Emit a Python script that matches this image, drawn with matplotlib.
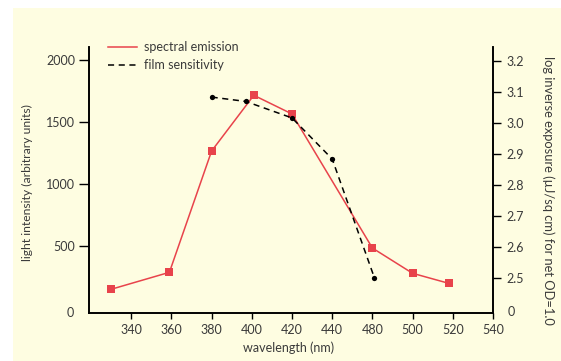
import numpy as np
import matplotlib
matplotlib.use("Agg")
import matplotlib.pyplot as plt
from matplotlib.lines import Line2D
from matplotlib.patches import Rectangle

plt.rcParams.update({
    "font.family": ["Lato", "DejaVu Sans"],
    "font.size": 9,
    "text.color": "#3a3a3a",
    "xtick.color": "black",
    "ytick.color": "black",
    "xtick.labelcolor": "#3a3a3a",
    "ytick.labelcolor": "#3a3a3a",
    "axes.labelcolor": "#3a3a3a",
})

# x axis tick labels (evenly spaced, 460 is skipped on the original)
tick_wl = [340, 360, 380, 400, 420, 440, 480, 500, 520, 540]

# spectral emission (left axis)
em_wl = [330, 359, 380, 401, 420, 480, 500, 518]
em_val = [148, 285, 1265, 1715, 1564, 481, 277, 196]

# film sensitivity (right axis)
fs_wl = [380, 397, 420, 440, 481]
fs_val = [3.083, 3.069, 3.016, 2.884, 2.502]

left_ticks = [500, 1000, 1500, 2000]
right_ticks = [2.5, 2.6, 2.7, 2.8, 2.9, 3.0, 3.1, 3.2]

# wavelength -> evenly spaced slot
scale_wl = [300, 320] + tick_wl + [560]
scale_pos = list(range(-1, len(scale_wl) - 1))


def fwd(x):
    return np.interp(x, scale_wl, scale_pos)


def inv(p):
    return np.interp(p, scale_pos, scale_wl)


red = "#E8434B"
cream = "#FEFDE1"

fig = plt.figure(figsize=(5.61, 3.61), dpi=100)
fig.patch.set_facecolor("white")
fig.patches.append(Rectangle((12.7 / 561, 0), 1, 1 - 8 / 361, transform=fig.transFigure,
                             facecolor=cream, edgecolor="none", zorder=-10))

ax = fig.add_axes([89 / 561, 1 - 313.3 / 361, (493 - 89) / 561, (313.3 - 47) / 361])
ax.set_facecolor("none")
ax.set_xscale("function", functions=(fwd, inv))
ax.set_xlim(319, 540)
ax.set_ylim(-46, 2105)

ax2 = ax.twinx()
ax2.set_ylim(2.388, 3.244)

ax.plot(em_wl, em_val, color=red, lw=1.1, marker="s", ms=5.2,
        markeredgewidth=0, zorder=3)
ax2.plot(fs_wl, fs_val, color="black", lw=1.1, ls=(0, (4, 3)), marker="o",
         ms=3.8, markeredgewidth=0, zorder=4)

for s in ["top"]:
    ax.spines[s].set_visible(False)
    ax2.spines[s].set_visible(False)
for a in (ax, ax2):
    for s in a.spines.values():
        s.set_linewidth(1.2)

ax.set_xticks(tick_wl)
ax.set_xticklabels([str(t) for t in tick_wl])
ax.set_yticks(left_ticks)
ax.set_yticklabels([str(t) for t in left_ticks])
ax2.set_yticks(right_ticks)
ax2.set_yticklabels(["%.1f" % t for t in right_ticks])
ax.tick_params(axis="x", direction="out", length=4, width=1, pad=4)
ax.tick_params(axis="y", direction="out", length=7, width=1, pad=3)
ax2.tick_params(axis="y", direction="out", length=6, width=1, pad=4)
ax.xaxis.set_minor_locator(plt.NullLocator())

# the "0" labels sitting at the foot of both axes
ax.text(-0.037, 0, "0", transform=ax.transAxes, ha="right", va="center")
ax2.text(1.035, 0.005, "0", transform=ax2.transAxes, ha="left", va="center")

ax.set_ylabel("light intensity (arbitrary units)", fontsize=8.7)
ax.yaxis.set_label_coords(-0.138, 0.49)
fig.text(289 / 561, 1 - 348 / 361, "wavelength (nm)", ha="center", va="center")
fig.text(548 / 561, 1 - 190 / 361, "log inverse exposure (µJ/sq cm) for net OD=1.0",
         rotation=270, ha="center", va="center", fontsize=9.3)

handles = [Line2D([], [], color=red, lw=1.1),
           Line2D([], [], color="black", lw=1.1, ls=(0, (4, 3)))]
ax.legend(handles, ["spectral emission", "film sensitivity"], loc="upper left",
          bbox_to_anchor=(0.035, 1.04), frameon=False, handlelength=2.3,
          handletextpad=0.6, labelspacing=0.45, borderaxespad=0)

fig.savefig("out.png", dpi=100)
